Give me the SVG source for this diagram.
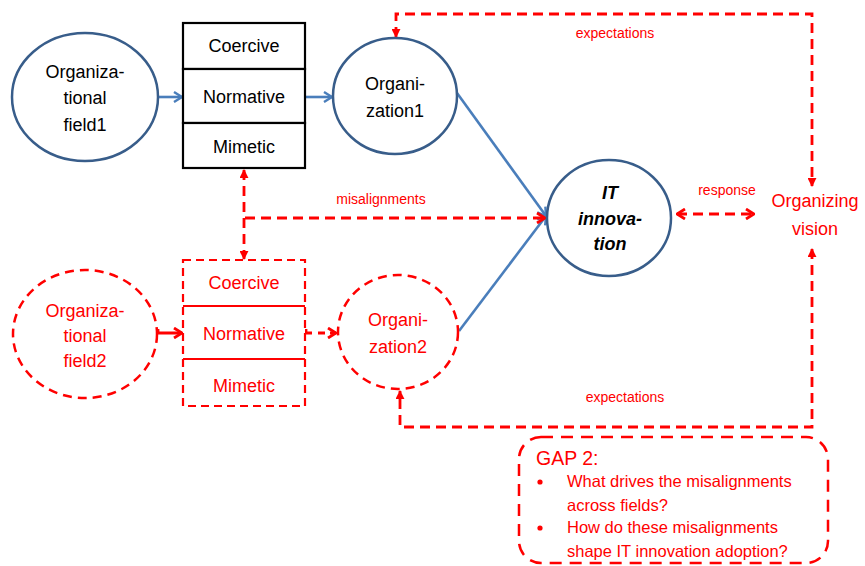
<svg xmlns="http://www.w3.org/2000/svg" width="865" height="566" viewBox="0 0 865 566">
  <style>
    text { font-family: "Liberation Sans", Arial, sans-serif; text-anchor: middle; }
    .lbl { font-size: 18px; fill: #000; }
    .rlbl { font-size: 18px; fill: #ff0000; }
    .small { font-size: 14px; fill: #ff0000; }
    .blue-node { fill: #fff; stroke: #385d8a; stroke-width: 2.5; }
    .red-node { fill: #fff; stroke: #ff0000; stroke-width: 2.5; stroke-dasharray: 9 6; }
    .box { fill: #fff; stroke: #000; stroke-width: 2.2; }
    .rbox { fill: #fff; stroke: #ff0000; stroke-width: 2.2; stroke-dasharray: 8 5; }
    .rdiv { stroke: #ff0000; stroke-width: 2.2; }
    .bline { fill: none; stroke: #4a7ebb; stroke-width: 2.6; }
    .rline { fill: none; stroke: #ff0000; stroke-width: 2.8; stroke-dasharray: 10 6; }
    .solid { stroke-dasharray: none; }
    .bi { font-weight: bold; font-style: italic; }
  </style>
  <defs>
    <marker id="chevBlue" viewBox="0 0 10 12" refX="9" refY="6" markerWidth="10" markerHeight="12" markerUnits="userSpaceOnUse" orient="auto-start-reverse">
      <path d="M1,1 L9,6 L1,11" fill="none" stroke="#4a7ebb" stroke-width="2.4"/>
    </marker>
    <marker id="chevRed" viewBox="0 0 10 12" refX="9" refY="6" markerWidth="10" markerHeight="12" markerUnits="userSpaceOnUse" orient="auto-start-reverse">
      <path d="M1,1 L9,6 L1,11" fill="none" stroke="#ff0000" stroke-width="2.8"/>
    </marker>
    <marker id="triRed" viewBox="0 0 10 10" refX="9" refY="5" markerWidth="9" markerHeight="9" markerUnits="userSpaceOnUse" orient="auto-start-reverse">
      <path d="M0,0 L10,5 L0,10 Z" fill="#ff0000"/>
    </marker>
  </defs>

  <!-- connectors -->
  <g id="connectors">
    <line class="bline" x1="159" y1="97" x2="182" y2="97" marker-end="url(#chevBlue)"/>
    <line class="bline" x1="306" y1="97" x2="332" y2="97" marker-end="url(#chevBlue)"/>
    <line class="bline" x1="457" y1="93" x2="546" y2="216" marker-end="url(#chevBlue)"/>
    <line class="bline" x1="459" y1="331" x2="546" y2="216" marker-end="url(#chevBlue)"/>

    <path class="rline solid" d="M158,329 V333 H182" marker-end="url(#chevRed)"/>
    <path class="rline solid" d="M306,329 V333 H312" />
    <line class="rline" x1="318" y1="333" x2="336" y2="333" style="stroke-dasharray:7 5" marker-end="url(#chevRed)"/>
    <line class="rline" x1="244" y1="170" x2="244" y2="259" marker-start="url(#triRed)" marker-end="url(#triRed)"/>
    <path class="rline" d="M245,218 H545" marker-end="url(#chevRed)"/>
    <line class="rline" x1="677" y1="214" x2="754" y2="214" marker-start="url(#chevRed)" marker-end="url(#chevRed)"/>
    <path class="rline" d="M396,37 V14 H812 V186" marker-start="url(#triRed)" marker-end="url(#triRed)"/>
    <path class="rline" d="M812,249 V427 H400 V391" marker-start="url(#triRed)" marker-end="url(#triRed)"/>

    <text class="small" x="615" y="38">expectations</text>
    <text class="small" x="381" y="204">misalignments</text>
    <text class="small" x="727" y="195">response</text>
    <text class="small" x="625" y="402">expectations</text>
  </g>

  <!-- organizational field 1 -->
  <g id="field1">
    <ellipse class="blue-node" cx="85" cy="97" rx="73" ry="64"/>
    <text class="lbl" x="85" y="78">Organiza-</text>
    <text class="lbl" x="85" y="104">tional</text>
    <text class="lbl" x="85" y="131">field1</text>
  </g>

  <!-- institutional pressures, field 1 -->
  <g id="pressures1">
    <rect class="box" x="183" y="23" width="122" height="46"/>
    <rect class="box" x="183" y="69" width="122" height="54"/>
    <rect class="box" x="183" y="123" width="122" height="45"/>
    <text class="lbl" x="244" y="52">Coercive</text>
    <text class="lbl" x="244" y="103">Normative</text>
    <text class="lbl" x="244" y="153">Mimetic</text>
  </g>

  <!-- organization 1 -->
  <g id="org1">
    <ellipse class="blue-node" cx="395" cy="96" rx="62" ry="58"/>
    <text class="lbl" x="395" y="90">Organi-</text>
    <text class="lbl" x="395" y="117">zation1</text>
  </g>

  <!-- IT innovation -->
  <g id="it-innovation">
    <ellipse class="blue-node" cx="609" cy="218" rx="62" ry="58"/>
    <text class="lbl bi" x="610" y="199">IT</text>
    <text class="lbl bi" x="610" y="225">innova-</text>
    <text class="lbl bi" x="610" y="250">tion</text>
  </g>

  <!-- organizing vision -->
  <g id="organizing-vision">
    <text class="rlbl" x="815" y="207">Organizing</text>
    <text class="rlbl" x="815" y="235">vision</text>
  </g>

  <!-- organizational field 2 -->
  <g id="field2">
    <ellipse class="red-node" cx="85" cy="334" rx="72" ry="64"/>
    <text class="rlbl" x="85" y="317">Organiza-</text>
    <text class="rlbl" x="85" y="342">tional</text>
    <text class="rlbl" x="85" y="367">field2</text>
  </g>

  <!-- institutional pressures, field 2 -->
  <g id="pressures2">
    <rect class="rbox" x="183" y="260" width="122" height="146"/>
    <line class="rdiv" x1="183" y1="306" x2="305" y2="306"/>
    <line class="rdiv" x1="183" y1="359" x2="305" y2="359"/>
    <text class="rlbl" x="244" y="289">Coercive</text>
    <text class="rlbl" x="244" y="340">Normative</text>
    <text class="rlbl" x="244" y="392">Mimetic</text>
  </g>

  <!-- organization 2 -->
  <g id="org2">
    <ellipse class="red-node" cx="398" cy="332" rx="60" ry="57"/>
    <text class="rlbl" x="398" y="326">Organi-</text>
    <text class="rlbl" x="398" y="353">zation2</text>
  </g>

  <!-- research gap -->
  <g id="gap2">
    <rect x="519" y="437" width="309" height="126" rx="22" ry="22" fill="#fff" stroke="#ff0000" stroke-width="2.5" stroke-dasharray="12 8"/>
    <text x="536" y="465" style="text-anchor:start;font-size:19.5px;fill:#ff0000">GAP 2:</text>
    <g style="font-size:16.5px;fill:#ff0000">
      <circle cx="540" cy="482" r="2.6" fill="#ff0000"/>
      <text x="567" y="487" style="text-anchor:start">What drives the misalignments</text>
      <text x="567" y="511" style="text-anchor:start">across fields?</text>
      <circle cx="540" cy="528" r="2.6" fill="#ff0000"/>
      <text x="567" y="533" style="text-anchor:start">How do these misalignments</text>
      <text x="567" y="557" style="text-anchor:start">shape IT innovation adoption?</text>
    </g>
  </g>
</svg>
